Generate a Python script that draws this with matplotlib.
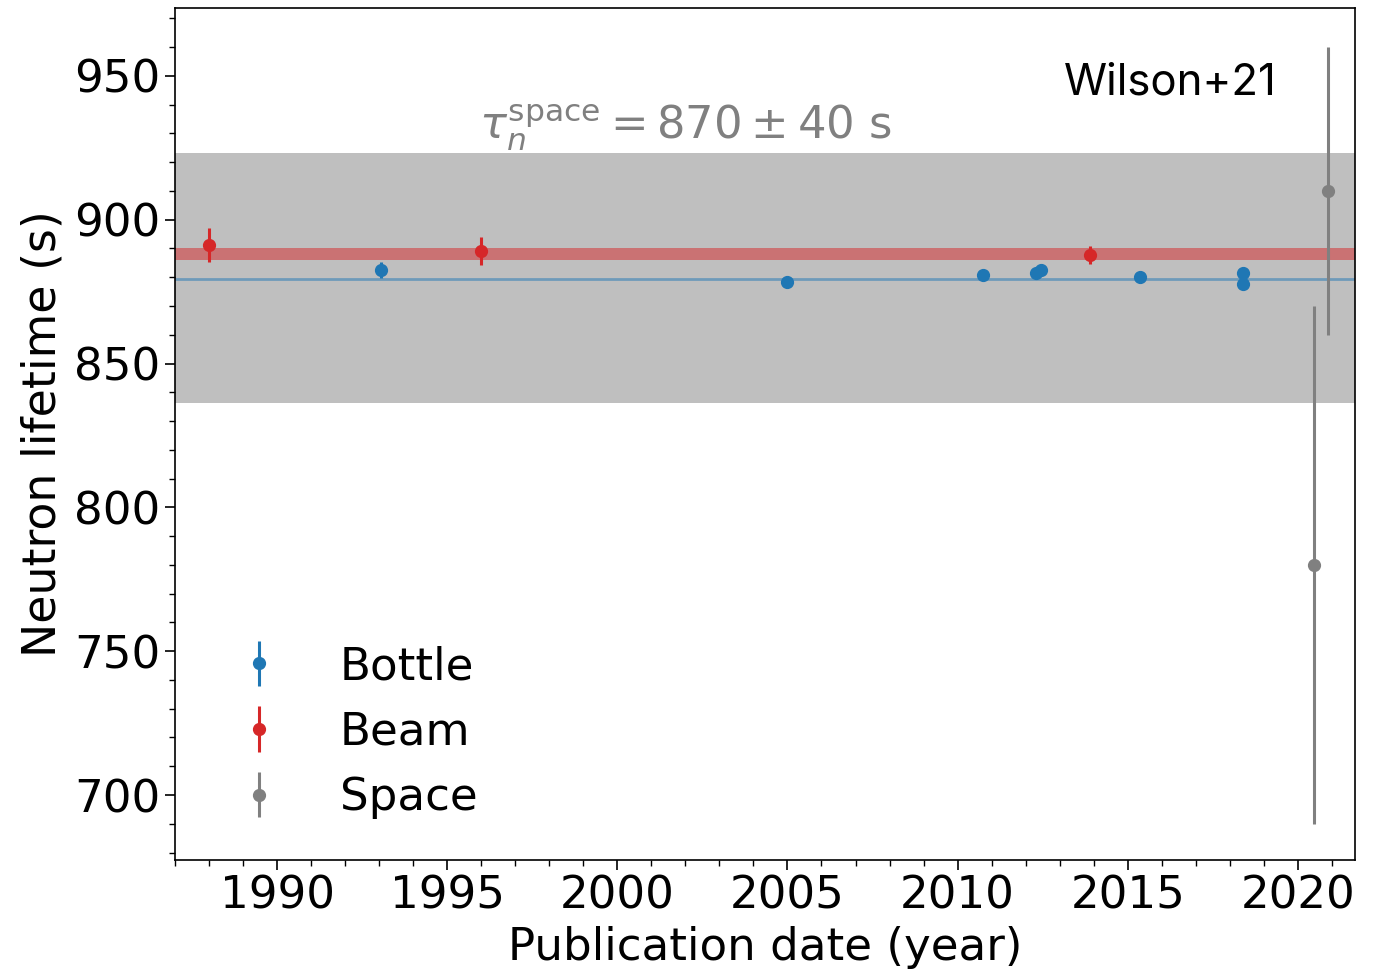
import matplotlib
matplotlib.use("Agg")
import matplotlib.pyplot as plt
from matplotlib.ticker import MultipleLocator

# Bottle measurements
bottle_year = [1993.05, 2004.98, 2010.75, 2012.31, 2012.45, 2015.36, 2018.38, 2018.38]
bottle_tau = [882.6, 878.5, 880.7, 881.6, 882.5, 880.2, 881.5, 877.7]
bottle_err = [2.7, 0.8, 1.8, 2.1, 2.1, 1.2, 0.9, 0.7]

# Beam measurements
beam_year = [1988.0, 1996.0, 2013.88]
beam_tau = [891.2, 889.2, 887.7]
beam_err = [6.0, 4.8, 3.1]

# Space measurements
space_year = [2020.48, 2020.88]
space_tau = [780.0, 910.0]
space_err = [90.0, 50.0]

# Averages
bottle_avg = 879.4
beam_avg = 888.0
beam_avg_err = 2.0
space_band_center = 879.7
space_band_err = 43.5

blue = "#1f77b4"
red = "#d62728"
gray = "gray"

fig = plt.figure(figsize=(13.78, 9.71), dpi=100)
ax = fig.add_axes([0.127, 0.1143, 0.8563, 0.8775])

ax.axhspan(space_band_center - space_band_err, space_band_center + space_band_err,
           color=gray, alpha=0.5, lw=0)
ax.axhspan(beam_avg - beam_avg_err, beam_avg + beam_avg_err, color=red, alpha=0.5, lw=0)
ax.axhline(bottle_avg, color=blue, alpha=0.5, lw=2)

ax.errorbar(bottle_year, bottle_tau, yerr=bottle_err, fmt="o", color=blue,
            ms=8.5, elinewidth=2.2, capsize=0, label="Bottle")
ax.errorbar(beam_year, beam_tau, yerr=beam_err, fmt="o", color=red,
            ms=8.5, elinewidth=2.2, capsize=0, label="Beam")
ax.errorbar(space_year, space_tau, yerr=space_err, fmt="o", color=gray,
            ms=8.5, elinewidth=2.2, capsize=0, label="Space")

ax.set_xlim(1987.0, 2021.68)
ax.set_ylim(677.4, 973.6)
ax.xaxis.set_major_locator(MultipleLocator(5))
ax.xaxis.set_minor_locator(MultipleLocator(1))
ax.yaxis.set_major_locator(MultipleLocator(50))
ax.yaxis.set_minor_locator(MultipleLocator(10))
ax.tick_params(axis="both", which="major", labelsize=32.5, length=7, width=1.2)
ax.tick_params(axis="both", which="minor", length=4, width=1)
for s in ax.spines.values():
    s.set_linewidth(1.2)

ax.set_xlabel("Publication date (year)", fontsize=32.5, labelpad=6)
ax.set_ylabel("Neutron lifetime (s)", fontsize=33, labelpad=6)

ax.text(0.258, 0.846, r"$\tau_n^{\rm space} = 870 \pm 40$ s", transform=ax.transAxes,
        fontsize=32.3, color=gray, ha="left", va="baseline")
ax.text(0.934, 0.899, "Wilson+21", transform=ax.transAxes, fontsize=31.5,
        family=["Inter", "DejaVu Sans"], ha="right", va="baseline")

leg = ax.legend(loc="lower left", fontsize=32.5, frameon=False, handlelength=1.9,
                handletextpad=0.85, labelspacing=0.5, borderaxespad=0.5)

fig.savefig("out.png", dpi=100)
